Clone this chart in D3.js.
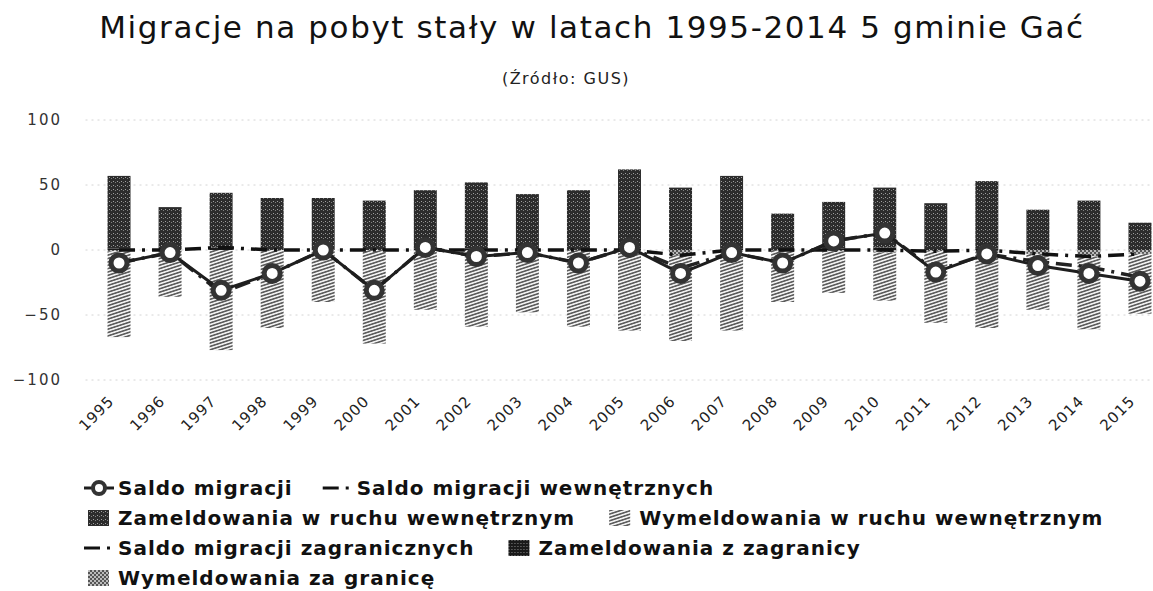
<!DOCTYPE html>
<html>
<head>
<meta charset="utf-8">
<script src="https://cdn.jsdelivr.net/npm/d3@7"></script>
<style>
  body { margin: 0; background: #fff; }
  svg { display: block; font-family: "DejaVu Sans", sans-serif; }
</style>
</head>
<body>
<div id="chart"></div>
<script>
const years = ["1995","1996","1997","1998","1999","2000","2001","2002","2003","2004",
  "2005","2006","2007","2008","2009","2010","2011","2012","2013","2014","2015"];

// stacked columns
const zamWewn  = [56, 33, 42, 40, 40, 38, 45, 51, 43, 46, 61, 48, 56, 28, 36, 46, 36, 52, 31, 38, 21];
const wymWewn  = [66, 36, 77, 60, 40, 72, 45, 58, 48, 59, 61, 66, 61, 40, 32, 37, 55, 59, 43, 56, 46];
const zamZagr  = [1, 0, 2, 0, 0, 0, 1, 1, 0, 0, 1, 0, 1, 0, 1, 2, 0, 1, 0, 0, 0];
const wymZagr  = [1, 0, 0, 0, 0, 0, 1, 1, 0, 0, 1, 4, 1, 0, 1, 2, 1, 1, 3, 5, 3];

// lines
const saldo      = [-10, -2, -31, -18, 0, -31, 2, -5, -2, -10, 2, -18, -2, -10, 7, 13, -17, -3, -12, -18, -24];
const saldoWewn  = [-10, -2, -33, -18, 0, -31, 2, -5, -2, -10, 2, -14, -2, -10, 7, 13, -16, -3, -9, -13, -21];
const saldoZagr  = [0, 0, 2, 0, 0, 0, 0, 0, 0, 0, 0, -4, 0, 0, 0, 0, -1, 0, -3, -5, -3];

const yTicks = [-100, -50, 0, 50, 100];

const W = 1153, H = 591;
const plot = { left: 93.5, right: 1165.5, top: 120, bottom: 380 };

const svg = d3.select("#chart").append("svg")
  .attr("width", W)
  .attr("height", H);

// patterns to imitate the scanned look
const defs = svg.append("defs");

const pDark = defs.append("pattern").attr("id", "pDark")
  .attr("patternUnits", "userSpaceOnUse").attr("width", 4).attr("height", 4);
pDark.append("rect").attr("width", 4).attr("height", 4).attr("fill", "#2c2c2c");
pDark.append("rect").attr("x", 1).attr("y", 1).attr("width", 1).attr("height", 1).attr("fill", "#a0a0a0");
pDark.append("rect").attr("x", 3).attr("y", 2).attr("width", 1).attr("height", 1).attr("fill", "#808080");

const pHatch = defs.append("pattern").attr("id", "pHatch")
  .attr("patternUnits", "userSpaceOnUse").attr("width", 8).attr("height", 3.2)
  .attr("patternTransform", "rotate(-18)");
pHatch.append("rect").attr("width", 8).attr("height", 3.2).attr("fill", "#f2f2f2");
pHatch.append("line").attr("x1", 0).attr("x2", 8).attr("y1", 0.8).attr("y2", 0.8)
  .attr("stroke", "#3a3a3a").attr("stroke-width", 1.3);

const pZam = defs.append("pattern").attr("id", "pZam")
  .attr("patternUnits", "userSpaceOnUse").attr("width", 3).attr("height", 3);
pZam.append("rect").attr("width", 3).attr("height", 3).attr("fill", "#1a1a1a");
pZam.append("rect").attr("x", 1).attr("y", 1).attr("width", 1).attr("height", 1).attr("fill", "#888");

const pWym = defs.append("pattern").attr("id", "pWym")
  .attr("patternUnits", "userSpaceOnUse").attr("width", 4).attr("height", 4);
pWym.append("rect").attr("width", 4).attr("height", 4).attr("fill", "#555");
pWym.append("rect").attr("width", 2).attr("height", 2).attr("fill", "#bbb");
pWym.append("rect").attr("x", 2).attr("y", 2).attr("width", 2).attr("height", 2).attr("fill", "#bbb");

const x = d3.scaleBand()
  .domain(years)
  .range([plot.left, plot.right])
  .paddingInner(0.55)
  .paddingOuter(0.275);

const y = d3.scaleLinear()
  .domain([-100, 100])
  .range([plot.bottom, plot.top]);

const cx = d => x(d) + x.bandwidth() / 2;

// title
svg.append("text")
  .attr("x", 592).attr("y", 38)
  .attr("text-anchor", "middle")
  .style("font-size", "31px")
  .style("letter-spacing", "1.6px")
  .style("fill", "#111")
  .text("Migracje na pobyt stały w latach 1995-2014 5 gminie Gać");

svg.append("text")
  .attr("x", 566).attr("y", 84)
  .attr("text-anchor", "middle")
  .style("font-size", "16px")
  .style("letter-spacing", "1.5px")
  .style("fill", "#222")
  .text("(Źródło: GUS)");

// grid
svg.append("g")
  .selectAll("line")
  .data(yTicks)
  .join("line")
  .attr("x1", plot.left - 8).attr("x2", W)
  .attr("y1", d => y(d)).attr("y2", d => y(d))
  .attr("stroke", "#d4d4d4")
  .attr("stroke-dasharray", "2,4");

// y axis
const yAxis = svg.append("g")
  .attr("transform", "translate(62,0)")
  .call(d3.axisLeft(y).tickValues(yTicks).tickSize(0).tickPadding(0).tickFormat(d3.format("d")));
yAxis.select(".domain").remove();
yAxis.selectAll("text")
  .style("font-family", "DejaVu Sans, sans-serif")
  .style("font-size", "15px")
  .style("letter-spacing", "2px")
  .style("fill", "#333");

// x axis
const xAxis = svg.append("g")
  .attr("transform", `translate(0,${plot.bottom})`)
  .call(d3.axisBottom(x).tickSize(0).tickPadding(0));
xAxis.select(".domain").remove();
xAxis.selectAll("text")
  .attr("text-anchor", "end")
  .attr("dy", 0)
  .attr("transform", "translate(-4,22) rotate(-45)")
  .style("font-family", "DejaVu Sans, sans-serif")
  .style("font-size", "15px")
  .style("letter-spacing", "1px")
  .style("fill", "#222");

// stacked bars
const rows = years.map((yr, i) => ({
  year: yr,
  zamZagr: zamZagr[i],
  wymZagr: -wymZagr[i],
  zamWewn: zamWewn[i],
  wymWewn: -wymWewn[i]
}));

const keys = ["zamZagr", "wymZagr", "zamWewn", "wymWewn"];
const fills = { zamWewn: "url(#pDark)", wymWewn: "url(#pHatch)", zamZagr: "url(#pZam)", wymZagr: "url(#pWym)" };

const stack = d3.stack().keys(keys).offset(d3.stackOffsetDiverging)(rows);

svg.append("g")
  .selectAll("g")
  .data(stack)
  .join("g")
  .attr("fill", d => fills[d.key])
  .selectAll("rect")
  .data(d => d)
  .join("rect")
  .attr("x", d => x(d.data.year))
  .attr("width", x.bandwidth())
  .attr("y", d => y(Math.max(d[0], d[1])))
  .attr("height", d => Math.abs(y(d[0]) - y(d[1])));

// dash-dot lines
const line = d3.line()
  .x((d, i) => cx(years[i]))
  .y(d => y(d));

svg.append("path")
  .datum(saldoZagr)
  .attr("d", line)
  .attr("fill", "none")
  .attr("stroke", "#111")
  .attr("stroke-width", 3.5)
  .attr("stroke-dasharray", "16,7,3,7");

svg.append("path")
  .datum(saldoWewn)
  .attr("d", line)
  .attr("fill", "none")
  .attr("stroke", "#222")
  .attr("stroke-width", 3.5)
  .attr("stroke-dasharray", "16,7,3,7");

// saldo migracji
svg.append("path")
  .datum(saldo)
  .attr("d", line)
  .attr("fill", "none")
  .attr("stroke", "#1e1e1e")
  .attr("stroke-width", 3);

svg.append("g")
  .selectAll("circle")
  .data(saldo)
  .join("circle")
  .attr("cx", (d, i) => cx(years[i]))
  .attr("cy", d => y(d))
  .attr("r", 8)
  .attr("fill", "#fff")
  .attr("stroke", "#333")
  .attr("stroke-width", 5);

// legend
const legendRows = [
  [{ name: "Saldo migracji", type: "marker" }, { name: "Saldo migracji wewnętrznych", type: "dash" }],
  [{ name: "Zameldowania w ruchu wewnętrznym", type: "rect", fill: "url(#pDark)" },
   { name: "Wymeldowania w ruchu wewnętrznym", type: "rect", fill: "url(#pHatch)" }],
  [{ name: "Saldo migracji zagranicznych", type: "dash" }, { name: "Zameldowania z zagranicy", type: "rect", fill: "url(#pZam)" }],
  [{ name: "Wymeldowania za granicę", type: "rect", fill: "url(#pWym)" }]
];

const legend = svg.append("g").attr("class", "legend");

legendRows.forEach((row, r) => {
  let lx = 84;
  const ly = 488 + r * 30;
  row.forEach(item => {
    const g = legend.append("g").attr("transform", `translate(${lx},${ly})`);
    if (item.type === "marker") {
      g.append("line").attr("x1", 0).attr("x2", 30).attr("y1", 0).attr("y2", 0)
        .attr("stroke", "#1e1e1e").attr("stroke-width", 3);
      g.append("circle").attr("cx", 15).attr("cy", 0).attr("r", 6)
        .attr("fill", "#fff").attr("stroke", "#333").attr("stroke-width", 4);
    } else if (item.type === "dash") {
      g.append("line").attr("x1", 0).attr("x2", 30).attr("y1", 0).attr("y2", 0)
        .attr("stroke", "#111").attr("stroke-width", 3)
        .attr("stroke-dasharray", "16,7,3,7");
    } else {
      g.append("rect").attr("x", 4).attr("y", -8).attr("width", 21).attr("height", 16)
        .attr("fill", item.fill);
    }
    const t = g.append("text")
      .attr("x", 34).attr("y", 7)
      .style("font-size", "20px")
      .style("font-weight", "bold")
      .style("letter-spacing", "1px")
      .style("fill", "#111")
      .text(item.name);
    lx += 34 + t.node().getComputedTextLength() + 30;
  });
});
</script>
</body>
</html>
